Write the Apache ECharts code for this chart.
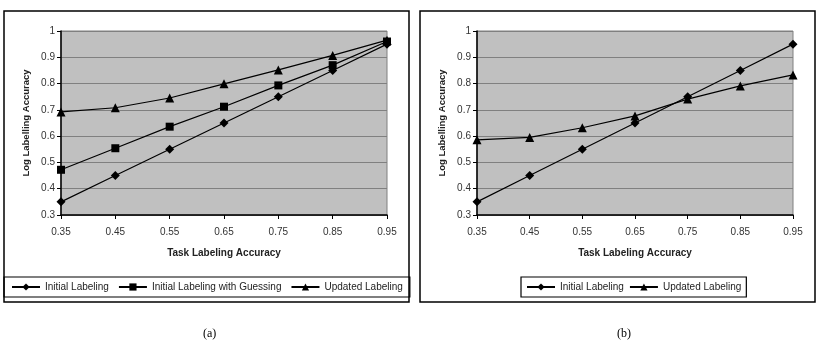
<!DOCTYPE html>
<html>
<head>
<meta charset="utf-8">
<script src="https://cdn.jsdelivr.net/npm/echarts@6/dist/echarts.min.js"></script>
<style>
  html, body { margin: 0; padding: 0; background: #fff; }
  #chart { width: 829px; height: 341px; }
</style>
</head>
<body>
<div id="chart"></div>
<script>
// task labeling accuracy (x categories)
const taskAcc = ['0.35', '0.45', '0.55', '0.65', '0.75', '0.85', '0.95']

// panel (a)
const initialA = [0.35, 0.45, 0.55, 0.65, 0.75, 0.85, 0.95]
const guessingA = [0.472, 0.554, 0.636, 0.712, 0.793, 0.87, 0.96]
const updatedA = [0.692, 0.708, 0.745, 0.799, 0.852, 0.907, 0.965]

// panel (b)
const initialB = [0.35, 0.45, 0.55, 0.65, 0.75, 0.85, 0.95]
const updatedB = [0.586, 0.595, 0.632, 0.677, 0.741, 0.791, 0.833]

const FONT = 'Liberation Sans, Arial, sans-serif'

const chart = echarts.init(document.getElementById('chart'))

function xAxis(idx) {
  return {
    type: 'category',
    gridIndex: idx,
    data: taskAcc,
    boundaryGap: false,
    name: 'Task Labeling Accuracy',
    nameLocation: 'middle',
    nameGap: 33,
    nameTextStyle: { fontFamily: FONT, fontSize: 10, fontWeight: 'bold', color: '#222' },
    axisLine: { lineStyle: { color: '#000', width: 1.5 } },
    axisTick: { show: true, alignWithLabel: true, length: 4, lineStyle: { color: '#000' } },
    axisLabel: { fontFamily: FONT, fontSize: 10, color: '#333', margin: 12 },
    splitLine: { show: false }
  }
}

function yAxis(idx) {
  return {
    type: 'value',
    gridIndex: idx,
    min: 0.3,
    max: 1,
    interval: 0.1,
    name: 'Log Labelling Accuracy',
    nameLocation: 'middle',
    nameRotate: 90,
    nameGap: 30,
    nameTextStyle: { fontFamily: FONT, fontSize: 9.5, fontWeight: 'bold', color: '#222' },
    axisLine: { show: true, lineStyle: { color: '#000', width: 1.5 } },
    axisTick: { show: true, length: 4, lineStyle: { color: '#000' } },
    axisLabel: {
      fontFamily: FONT, fontSize: 10, color: '#333', margin: 6,
      formatter: v => String(Math.round(v * 10) / 10)
    },
    splitLine: { show: true, lineStyle: { color: '#808080', width: 1 } }
  }
}

function line(name, data, symbol, size, idx) {
  return {
    name: name,
    type: 'line',
    xAxisIndex: idx,
    yAxisIndex: idx,
    data: data,
    symbol: symbol,
    symbolSize: size,
    showAllSymbol: true,
    lineStyle: { color: '#000', width: 1.2 },
    itemStyle: { color: '#000' },
    animation: false
  }
}

const legendText = { fontFamily: FONT, fontSize: 10, color: '#222' }

chart.setOption({
  backgroundColor: '#fff',
  animation: false,
  graphic: [
    { type: 'rect', shape: { x: 4, y: 11, width: 405, height: 291 },
      style: { fill: 'none', stroke: '#000', lineWidth: 1.5 } },
    { type: 'rect', shape: { x: 420, y: 11, width: 395, height: 291 },
      style: { fill: 'none', stroke: '#000', lineWidth: 1.5 } },
    { type: 'text', left: 203, top: 328,
      style: { text: '(a)', font: '12px Liberation Serif, Times New Roman, serif', fill: '#000' } },
    { type: 'text', left: 617, top: 328,
      style: { text: '(b)', font: '12px Liberation Serif, Times New Roman, serif', fill: '#000' } }
  ],
  grid: [
    { left: 61, right: 442, top: 31, bottom: 126, show: true,
      backgroundColor: '#c0c0c0', borderColor: '#808080', borderWidth: 1 },
    { left: 477, right: 36, top: 31, bottom: 126, show: true,
      backgroundColor: '#c0c0c0', borderColor: '#808080', borderWidth: 1 }
  ],
  xAxis: [xAxis(0), xAxis(1)],
  yAxis: [yAxis(0), yAxis(1)],
  legend: [
    {
      data: ['Initial Labeling', 'Initial Labeling with Guessing', 'Updated Labeling A'],
      left: 4, top: 277, width: 405,
      itemWidth: 28, itemHeight: 9, itemGap: 9,
      padding: [5, 7],
      borderColor: '#000', borderWidth: 1.2,
      textStyle: legendText,
      formatter: n => n.replace(' A', ''),
      selectedMode: false
    },
    {
      data: ['Initial Labeling B', 'Updated Labeling'],
      left: 521, top: 277,
      itemWidth: 28, itemHeight: 9, itemGap: 5,
      padding: [5, 5],
      borderColor: '#000', borderWidth: 1.2,
      textStyle: legendText,
      formatter: n => n.replace(' B', ''),
      selectedMode: false
    }
  ],
  series: [
    line('Initial Labeling', initialA, 'diamond', 9, 0),
    line('Initial Labeling with Guessing', guessingA, 'rect', 8, 0),
    line('Updated Labeling A', updatedA, 'triangle', 9, 0),
    line('Initial Labeling B', initialB, 'diamond', 9, 1),
    line('Updated Labeling', updatedB, 'triangle', 9, 1)
  ]
})
</script>
</body>
</html>
